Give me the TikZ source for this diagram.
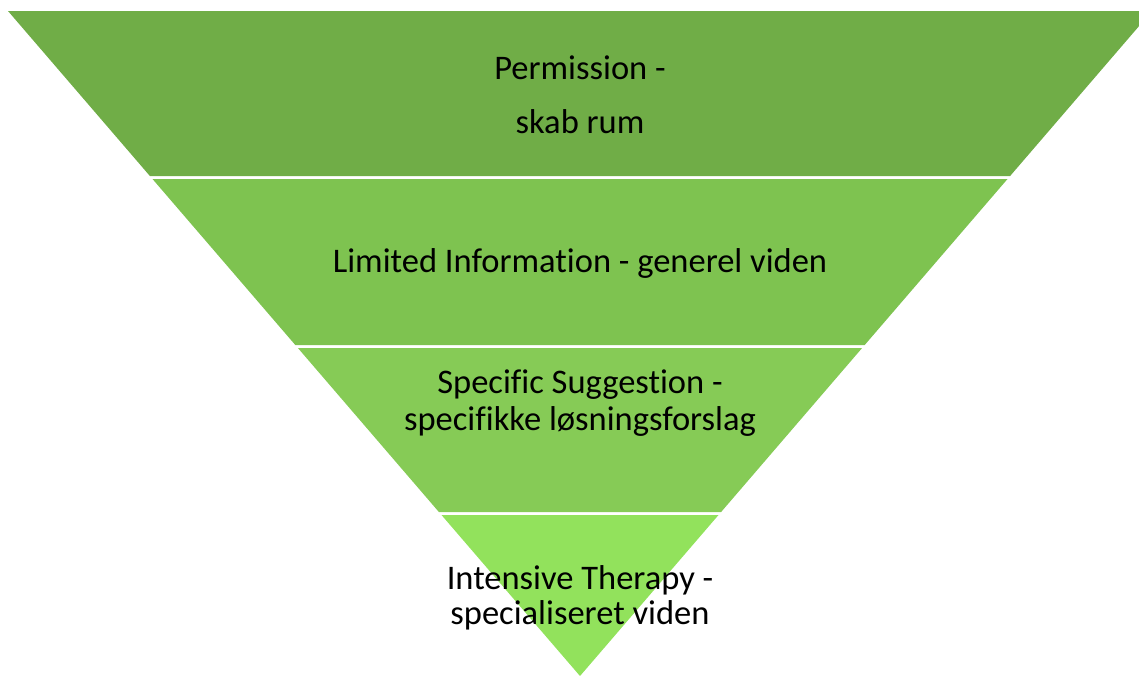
\documentclass[tikz,border=0pt]{standalone}
\usepackage{fontspec}
\setmainfont{Carlito}[Ligatures=NoCommon]
\usepackage{xcolor}

\definecolor{layerA}{HTML}{70AD47}
\definecolor{layerB}{HTML}{7EC350}
\definecolor{layerC}{HTML}{86CB56}
\definecolor{layerD}{HTML}{92E25C}

\begin{document}
\begin{tikzpicture}[x=1pt,y=-1pt,
  lbl/.style={align=center,inner sep=0pt,font=\fontsize{34.5}{37}\selectfont}]
\useasboundingbox (0,0) rectangle (1139,675);

% Inverted pyramid layers
\fill[layerA] (8,11) -- (1152,11) -- (1010.1,176) -- (149.9,176) -- cycle;
\node[lbl,font=\fontsize{34.5}{54}\selectfont] (perm) at (580,95) {Permission -\\skab rum};

\fill[layerB] (152.5,179) -- (1007.5,179) -- (864.7,345) -- (295.3,345) -- cycle;
\node[lbl] (info) at (580,263) {Limited Information - generel viden};

\fill[layerC] (297.9,348) -- (862.1,348) -- (721.1,512) -- (438.9,512) -- cycle;
\node[lbl,font=\fontsize{34.5}{37}\selectfont] (sugg) at (580,403) {Specific Suggestion -\\specifikke løsningsforslag};

\fill[layerD] (441.5,515) -- (718.5,515) -- (580,676) -- cycle;
\node[lbl,font=\fontsize{34.5}{35}\selectfont] (ther) at (580,598) {Intensive Therapy -\\specialiseret viden};
\end{tikzpicture}
\end{document}
